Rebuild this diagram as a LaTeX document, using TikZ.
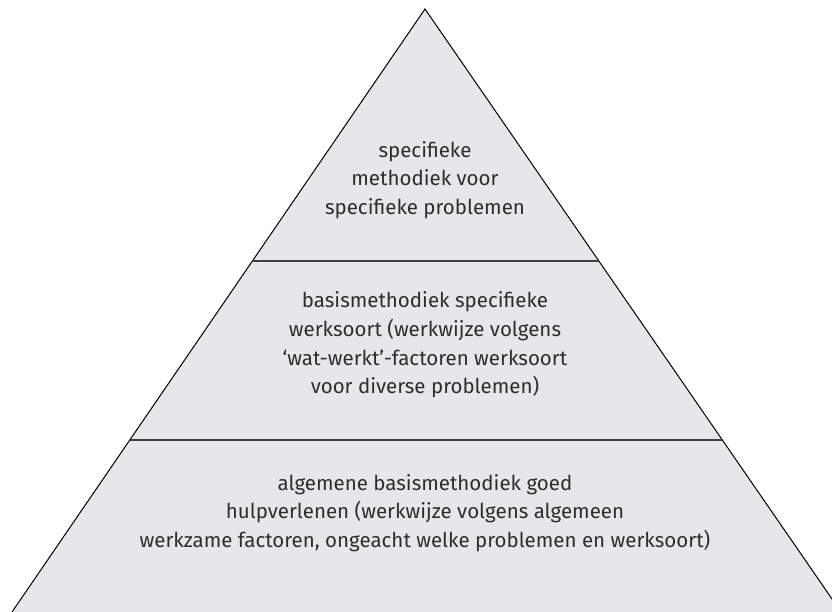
\documentclass[tikz,border=0pt]{standalone}
\usepackage{fontspec}
\setmainfont{Fira Sans}
\usepackage{tikz}
\usetikzlibrary{calc,positioning}
\tikzset{>=latex}
\definecolor{pyrfill}{RGB}{230,231,233}
\definecolor{pyrtext}{RGB}{45,45,45}
\tikzset{laag/.style={align=center, text=pyrtext, font=\fontsize{17.5}{24.5}\selectfont}}

\begin{document}
\begin{tikzpicture}[x=0.03cm, y=-0.03cm]
\useasboundingbox (0,0) rectangle (832,612);
\clip (0,0) rectangle (832,612);
\coordinate (top) at (425,9);
\coordinate (bl) at (12,612);
\coordinate (br) at (841,612);
\fill[pyrfill] (top) -- (bl) -- (br) -- cycle;
\draw[line width=0.3mm] (bl) -- (top) -- (br);
% scheidingslijnen
\coordinate (d1l) at ($(top)!0.418!(bl)$);
\coordinate (d1r) at ($(top)!0.418!(br)$);
\coordinate (d2l) at ($(top)!0.7148!(bl)$);
\coordinate (d2r) at ($(top)!0.7148!(br)$);
\draw[line width=0.4mm, black!75] (d1l) -- (d1r);
\draw[line width=0.4mm, black!75] (d2l) -- (d2r);
\node[laag] (l1) at (425,180) {specifieke\\ methodiek voor\\ specifieke problemen};
\node[laag] (l2) at (425,345) {basismethodiek specifieke\\ werksoort (werkwijze volgens\\ ‘wat-werkt’-factoren werksoort\\ voor diverse problemen)};
\node[laag] (l3) at (425,513) {algemene basismethodiek goed\\ hulpverlenen (werkwijze volgens algemeen\\ werkzame factoren, ongeacht welke problemen en werksoort)};
\end{tikzpicture}
\end{document}
